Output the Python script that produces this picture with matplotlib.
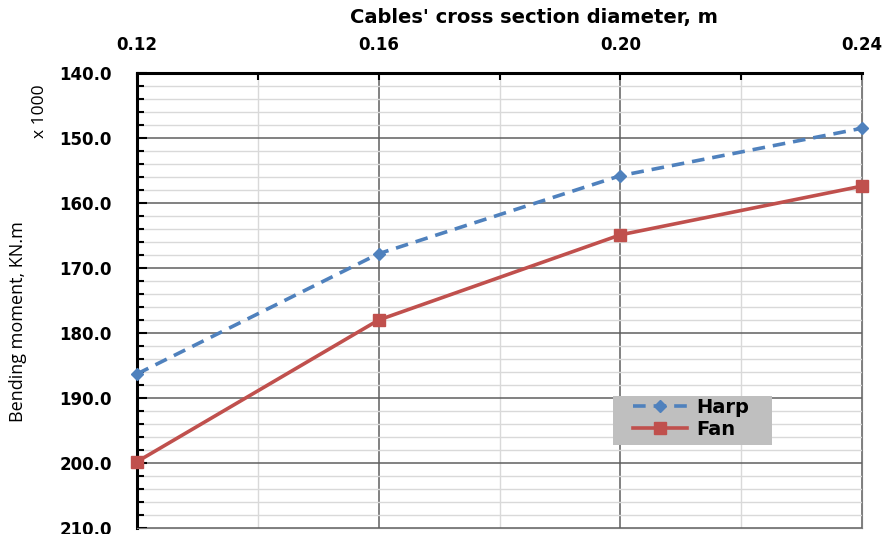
import matplotlib
matplotlib.use("Agg")
import matplotlib.pyplot as plt
from matplotlib.ticker import MultipleLocator, FormatStrFormatter
from matplotlib.patches import Rectangle

diameters = [0.12, 0.16, 0.20, 0.24]
harp = [186.3, 167.8, 155.8, 148.5]
fan = [199.8, 178.0, 164.9, 157.4]
x_ticks = [0.12, 0.16, 0.20, 0.24]
x_tick_labels = ["0.12", "0.16", "0.20", "0.24"]

W, H = 889, 534
fig = plt.figure(figsize=(W/100, H/100), dpi=100)
ax = fig.add_axes([137/W, 1-528/H, (862-137)/W, (528-73)/H])

ax.set_xlim(0.12, 0.24)
ax.set_ylim(210, 140)

ax.xaxis.tick_top()
ax.set_xticks(x_ticks)
ax.set_xticklabels(x_tick_labels)
ax.xaxis.set_minor_locator(MultipleLocator(0.02))
ax.yaxis.set_major_locator(MultipleLocator(10))
ax.yaxis.set_minor_locator(MultipleLocator(2))
ax.yaxis.set_major_formatter(FormatStrFormatter("%.1f"))

ax.grid(which="major", color="#5f5f5f", linewidth=1.1)
ax.grid(which="minor", color="#d9d9d9", linewidth=1.0)
ax.set_axisbelow(True)

for lab in ax.get_xticklabels() + ax.get_yticklabels():
    lab.set_fontfamily("DejaVu Sans")
    lab.set_fontweight("bold")
    lab.set_fontsize(12)

ax.tick_params(axis="both", which="both", direction="in", color="black")
ax.tick_params(axis="y", which="major", length=7, width=1.5, pad=18)
ax.tick_params(axis="y", which="minor", length=5, width=1.5)
ax.tick_params(axis="x", which="major", length=5, width=1.5, pad=14)
ax.tick_params(axis="x", which="minor", length=5, width=1.5)

ax.spines["left"].set_linewidth(2.2)
ax.spines["left"].set_color("black")
ax.spines["top"].set_linewidth(2.2)
ax.spines["top"].set_color("black")
ax.spines["right"].set_color("#7f7f7f")
ax.spines["bottom"].set_color("#7f7f7f")

ax.plot(diameters, harp, color="#4F81BD", linestyle=(0, (3.5, 2.2)), linewidth=2.6,
        marker="D", markersize=6, label="Harp", clip_on=False, zorder=5)
ax.plot(diameters, fan, color="#C0504D", linestyle="-", linewidth=2.6,
        marker="s", markersize=8, label="Fan", clip_on=False, zorder=5)

fig.text(534/W, 1-17/H, "Cables' cross section diameter, m", ha="center", va="center",
         fontfamily="DejaVu Sans", fontweight="bold", fontsize=14)

fig.text(18/W, 1-322/H, "Bending moment, KN.m", rotation=90, ha="center", va="center",
         fontfamily="Open Sans", fontsize=13)
fig.text(40/W, 1-111/H, "x 1000", rotation=90, ha="center", va="center",
         fontfamily="Open Sans", fontsize=12.5)

# legend background box
ax.add_patch(Rectangle((613/W, 1-445/H), (772-613)/W, (445-396)/H,
                       transform=fig.transFigure, facecolor="#bfbfbf",
                       edgecolor="none", zorder=6, clip_on=False))
leg = ax.legend(loc="upper left", bbox_to_anchor=(633/W, 1-398/H),
                bbox_transform=fig.transFigure,
                frameon=False, prop={"family": "DejaVu Sans", "weight": "bold", "size": 14},
                handlelength=2.8, borderpad=0, labelspacing=0.15, handletextpad=0.45,
                borderaxespad=0)
leg.set_zorder(7)

fig.savefig("out.png", dpi=100)
